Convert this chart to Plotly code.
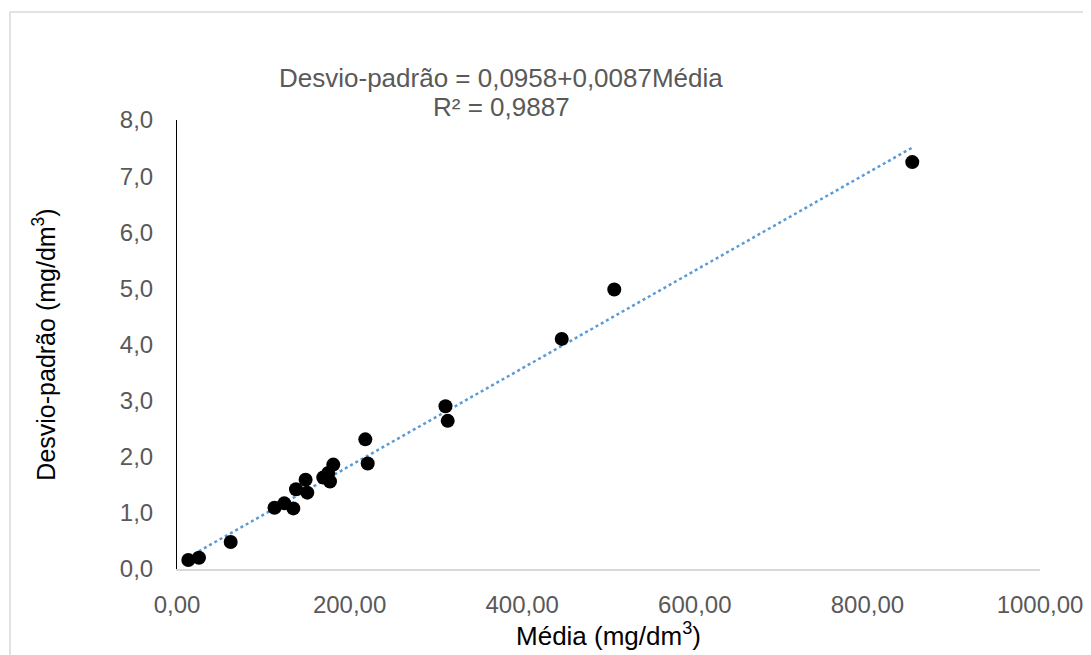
import plotly.graph_objects as go

# Data
media = [13.1, 25.5, 62.2, 113.0, 124.3, 134.8, 137.9, 149.0, 151.0, 169.5,
         175.3, 177.3, 181.1, 218.2, 221.0, 311.1, 313.7, 445.8, 506.7, 852.0]
desvio = [0.16, 0.20, 0.48, 1.09, 1.17, 1.08, 1.42, 1.59, 1.36, 1.63,
          1.71, 1.56, 1.86, 2.31, 1.88, 2.90, 2.64, 4.10, 4.98, 7.25]

intercept = 0.0958
slope = 0.0087
r2_text = "R² = 0,9887"
eq_text = "Desvio-padrão = 0,0958+0,0087Média"

x_tickvals = [0, 200, 400, 600, 800, 1000]
x_ticktext = ["0,00", "200,00", "400,00", "600,00", "800,00", "1000,00"]
y_tickvals = [0, 1, 2, 3, 4, 5, 6, 7, 8]
y_ticktext = ["0,0", "1,0", "2,0", "3,0", "4,0", "5,0", "6,0", "7,0", "8,0"]

FONT = "Liberation Sans, Arial, sans-serif"

x_fit = [min(media), max(media)]
y_fit = [intercept + slope * v for v in x_fit]

fig = go.Figure()
fig.add_trace(go.Scatter(
    x=x_fit, y=y_fit, mode="lines",
    line=dict(color="#5b9bd5", width=2.5, dash="dot"),
    hoverinfo="skip", showlegend=False,
))
fig.add_trace(go.Scatter(
    x=media, y=desvio, mode="markers",
    marker=dict(color="#000000", size=14, line=dict(width=0)),
    showlegend=False,
))

fig.update_layout(
    width=1091, height=655,
    margin=dict(l=169, r=59, t=112, b=94),
    paper_bgcolor="white", plot_bgcolor="white",
    font=dict(family=FONT),
    xaxis=dict(
        range=[0, 1000], tickvals=x_tickvals, ticktext=x_ticktext,
        showgrid=False, zeroline=False, showline=True, automargin=False,
        linecolor="#d9d9d9", linewidth=1.5, ticks="",
        tickfont=dict(size=24, color="#595959"),
        ticklabelstandoff=13,
        title=dict(text="Média (mg/dm<sup>3</sup>)",
                   font=dict(size=26, color="#000000"), standoff=10),
    ),
    yaxis=dict(
        range=[0, 8], tickvals=y_tickvals, ticktext=y_ticktext,
        showgrid=False, zeroline=False, showline=True, automargin=False,
        linecolor="#000000", linewidth=1, ticks="",
        tickfont=dict(size=24, color="#595959"),
        ticklabelstandoff=18,
        title=dict(text="Desvio-padrão (mg/dm<sup>3</sup>)",
                   font=dict(size=25, color="#000000"), standoff=57),
    ),
    annotations=[
        dict(text=eq_text, xref="x", yref="paper",
             x=376, y=(569 - 78) / 449, xanchor="center", yanchor="middle",
             showarrow=False, font=dict(size=26, color="#595959")),
        dict(text=r2_text, xref="x", yref="paper",
             x=376, y=(569 - 107) / 449, xanchor="center", yanchor="middle",
             showarrow=False, font=dict(size=26, color="#595959")),
    ],
    shapes=[
        dict(type="rect", xref="paper", yref="paper",
             x0=-167 / 863, x1=1.1, y0=-0.3, y1=(569 - 12) / 449,
             line=dict(color="#d9d9d9", width=1.5), fillcolor="rgba(0,0,0,0)",
             layer="below"),
    ],
)

fig.write_html("out.html")
